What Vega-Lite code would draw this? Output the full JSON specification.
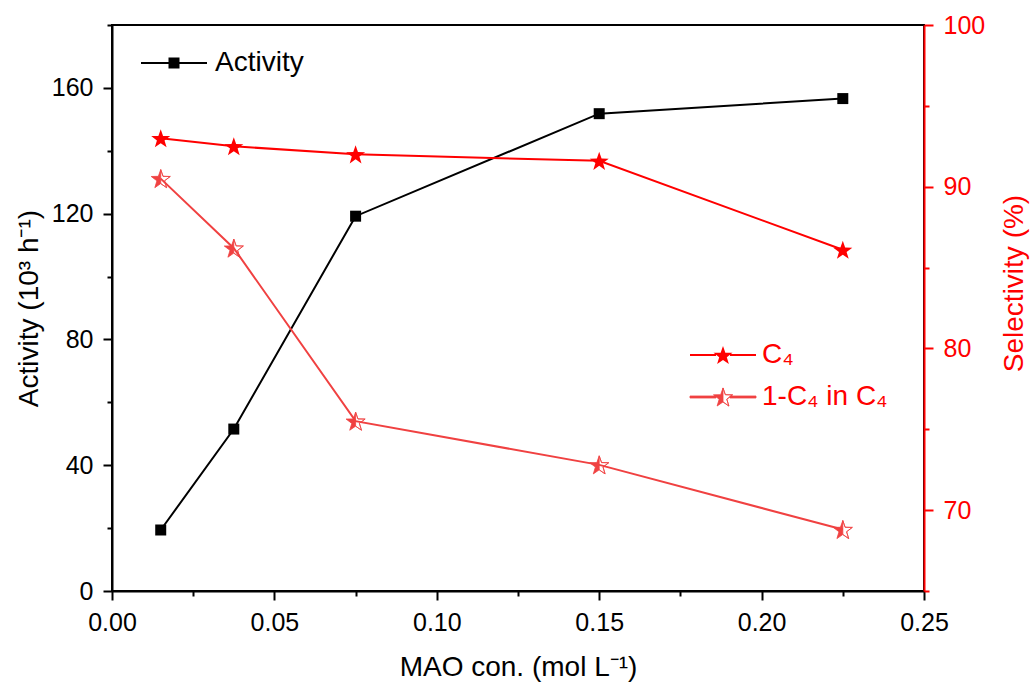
{
  "$schema": "https://vega.github.io/schema/vega-lite/v6.json",
  "width": 812,
  "height": 566,
  "autosize": {"type": "none"},
  "padding": {"left": 112, "top": 25, "right": 107, "bottom": 94},
  "background": "white",
  "config": {
    "view": {"stroke": "black", "strokeWidth": 2},
    "font": "Liberation Sans",
    "axis": {
      "labelFont": "Liberation Sans",
      "titleFont": "Liberation Sans",
      "labelFontSize": 25,
      "titleFontSize": 28,
      "titleFontWeight": "normal",
      "grid": false,
      "domainWidth": 2,
      "tickWidth": 2,
      "labelFlush": false,
      "labelOverlap": false,
      "labelBound": false
    },
    "legend": {"labelFont": "Liberation Sans", "labelFontSize": 28, "padding": 0}
  },
  "datasets": {
    "activity": [
      {"x": 0.015, "activity": 19.4, "series": "Activity"},
      {"x": 0.0375, "activity": 51.5, "series": "Activity"},
      {"x": 0.075, "activity": 119.2, "series": "Activity"},
      {"x": 0.15, "activity": 151.8, "series": "Activity"},
      {"x": 0.225, "activity": 156.6, "series": "Activity"}
    ],
    "selectivity": [
      {"x": 0.015, "sel": 93.0, "series": "C₄"},
      {"x": 0.0375, "sel": 92.5, "series": "C₄"},
      {"x": 0.075, "sel": 92.0, "series": "C₄"},
      {"x": 0.15, "sel": 91.6, "series": "C₄"},
      {"x": 0.225, "sel": 86.1, "series": "C₄"},
      {"x": 0.015, "sel": 90.5, "series": "1-C₄ in C₄"},
      {"x": 0.0375, "sel": 86.2, "series": "1-C₄ in C₄"},
      {"x": 0.075, "sel": 75.5, "series": "1-C₄ in C₄"},
      {"x": 0.15, "sel": 72.8, "series": "1-C₄ in C₄"},
      {"x": 0.225, "sel": 68.8, "series": "1-C₄ in C₄"}
    ]
  },
  "layer": [
    {
      "data": {"name": "activity"},
      "layer": [
        {
          "mark": {"type": "line", "strokeWidth": 2},
          "encoding": {
            "x": {
              "field": "x", "type": "quantitative",
              "scale": {"domain": [0, 0.25], "nice": false, "zero": false},
              "title": "MAO con. (mol L⁻¹)",
              "axis": {
                "orient": "bottom",
                "values": [0, 0.025, 0.05, 0.075, 0.1, 0.125, 0.15, 0.175, 0.2, 0.225, 0.25],
                "labelExpr": "round(datum.value*1000) % 50 == 0 ? format(datum.value, '.2f') : ''",
                "tickSize": {"condition": {"test": "round(datum.value*1000) % 50 == 0", "value": 9}, "value": 5},
                "domainColor": "black", "tickColor": "black", "labelColor": "black", "titleColor": "black",
                "labelPadding": 10, "titlePadding": 18
              }
            },
            "y": {
              "field": "activity", "type": "quantitative",
              "scale": {"domain": [0, 180], "nice": false, "zero": false},
              "title": "Activity (10³ h⁻¹)",
              "axis": {
                "orient": "left",
                "values": [0, 20, 40, 60, 80, 100, 120, 140, 160, 180],
                "labelExpr": "datum.value % 40 == 0 ? datum.label : ''",
                "tickSize": {"condition": {"test": "datum.value % 40 == 0", "value": 9}, "value": 5},
                "domainColor": "black", "tickColor": "black", "labelColor": "black", "titleColor": "black",
                "labelPadding": 10, "titlePadding": 8
              }
            },
            "color": {
              "field": "series", "type": "nominal",
              "scale": {"domain": ["Activity"], "range": ["black"]},
              "legend": {
                "orient": "none", "legendX": 48, "legendY": 24, "title": null,
                "labelColor": "black", "labelFontSize": 28, "symbolSize": 400, "labelOffset": 27, "padding": 0,
                "encode": {
                  "symbols": {
                    "update": {
                      "shape": {"value": "M-3.3,-0.1H-0.55V0.1H-3.3Z M0.55,-0.1H3.3V0.1H0.55Z M-0.55,-0.55H0.55V0.55H-0.55Z"},
                      "fill": {"value": "black"},
                      "stroke": {"value": "black"},
                      "strokeWidth": {"value": 0},
                      "size": {"value": 400},
                      "opacity": {"value": 1}
                    }
                  }
                }
              }
            }
          }
        },
        {
          "mark": {"type": "point", "shape": "square", "size": 121, "filled": true, "fill": "black", "opacity": 1},
          "encoding": {
            "x": {"field": "x", "type": "quantitative", "title": "MAO con. (mol L⁻¹)"},
            "y": {"field": "activity", "type": "quantitative", "title": "Activity (10³ h⁻¹)"}
          }
        }
      ]
    },
    {
      "data": {"name": "selectivity"},
      "layer": [
        {
          "mark": {"type": "line", "strokeWidth": 2},
          "encoding": {
            "x": {"field": "x", "type": "quantitative", "title": "MAO con. (mol L⁻¹)"},
            "y": {
              "field": "sel", "type": "quantitative",
              "scale": {"domain": [65, 100], "nice": false, "zero": false},
              "title": "Selectivity (%)",
              "axis": {
                "orient": "right",
                "values": [65, 70, 75, 80, 85, 90, 95, 100],
                "labelExpr": "datum.value % 10 == 0 ? datum.label : ''",
                "tickSize": {"condition": {"test": "datum.value % 10 == 0", "value": 9}, "value": 5},
                "domainColor": "#FF0000", "tickColor": "#FF0000", "labelColor": "#FF0000", "titleColor": "#FF0000",
                "labelPadding": 10, "titleY": 258, "titleX": 90, "titleAngle": 270, "titleBaseline": "middle", "titleAlign": "center"
              }
            },
            "color": {
              "field": "series", "type": "nominal",
              "scale": {"domain": ["C₄", "1-C₄ in C₄"], "range": ["#FF0000", "#F04141"]},
              "legend": {
                "orient": "none", "legendX": 597, "legendY": 316, "title": null,
                "labelColor": "#FF0000", "labelFontSize": 28, "symbolSize": 400, "labelOffset": 25, "padding": 0, "rowPadding": 14,
                "encode": {
                  "symbols": {
                    "update": {
                      "shape": {"signal": "datum.value == 'C₄' ? 'M-3.3,-0.1H-0.7V0.1H-3.3Z M0.7,-0.1H3.3V0.1H0.7Z M0,-0.905L0.235,-0.229L0.951,-0.214L0.38,0.219L0.588,0.904L0,0.495L-0.588,0.904L-0.38,0.219L-0.951,-0.214L-0.235,-0.229Z' : 'M-3.3,-0.1H-0.7V0.1H-3.3Z M0.7,-0.1H3.3V0.1H0.7Z M0,-0.905L0.235,-0.229L0.951,-0.214L0.38,0.219L0.588,0.904L0,0.495L-0.588,0.904L-0.38,0.219L-0.951,-0.214L-0.235,-0.229Z M0,-0.905L0,0.495L0.588,0.904L0.38,0.219L0.951,-0.214L0.235,-0.229Z'"},
                      "fill": {"signal": "datum.value == 'C₄' ? '#FF0000' : '#F04141'"},
                      "stroke": {"signal": "datum.value == 'C₄' ? '#FF0000' : '#F04141'"},
                      "strokeWidth": {"signal": "datum.value == 'C₄' ? 0 : 0.8"},
                      "size": {"value": 400},
                      "opacity": {"value": 1}
                    }
                  }
                }
              }
            }
          }
        },
        {
          "transform": [{"filter": "datum.series == 'C₄'"}],
          "mark": {"type": "point", "shape": "M0,-0.905L0.235,-0.229L0.951,-0.214L0.38,0.219L0.588,0.904L0,0.495L-0.588,0.904L-0.38,0.219L-0.951,-0.214L-0.235,-0.229Z", "size": 400, "filled": true, "fill": "#FF0000", "strokeWidth": 0, "opacity": 1},
          "encoding": {
            "x": {"field": "x", "type": "quantitative", "title": "MAO con. (mol L⁻¹)"},
            "y": {"field": "sel", "type": "quantitative", "title": "Selectivity (%)"}
          }
        },
        {
          "transform": [{"filter": "datum.series == '1-C₄ in C₄'"}],
          "mark": {"type": "point", "shape": "M0,-0.905L0.235,-0.229L0.951,-0.214L0.38,0.219L0.588,0.904L0,0.495L-0.588,0.904L-0.38,0.219L-0.951,-0.214L-0.235,-0.229Z M0,-0.905L0,0.495L0.588,0.904L0.38,0.219L0.951,-0.214L0.235,-0.229Z", "size": 400, "filled": true, "fill": "#F04141", "stroke": "#F04141", "strokeWidth": 0.8, "opacity": 1},
          "encoding": {
            "x": {"field": "x", "type": "quantitative", "title": "MAO con. (mol L⁻¹)"},
            "y": {"field": "sel", "type": "quantitative", "title": "Selectivity (%)"}
          }
        }
      ]
    }
  ],
  "resolve": {"scale": {"y": "independent", "color": "independent"}}
}
